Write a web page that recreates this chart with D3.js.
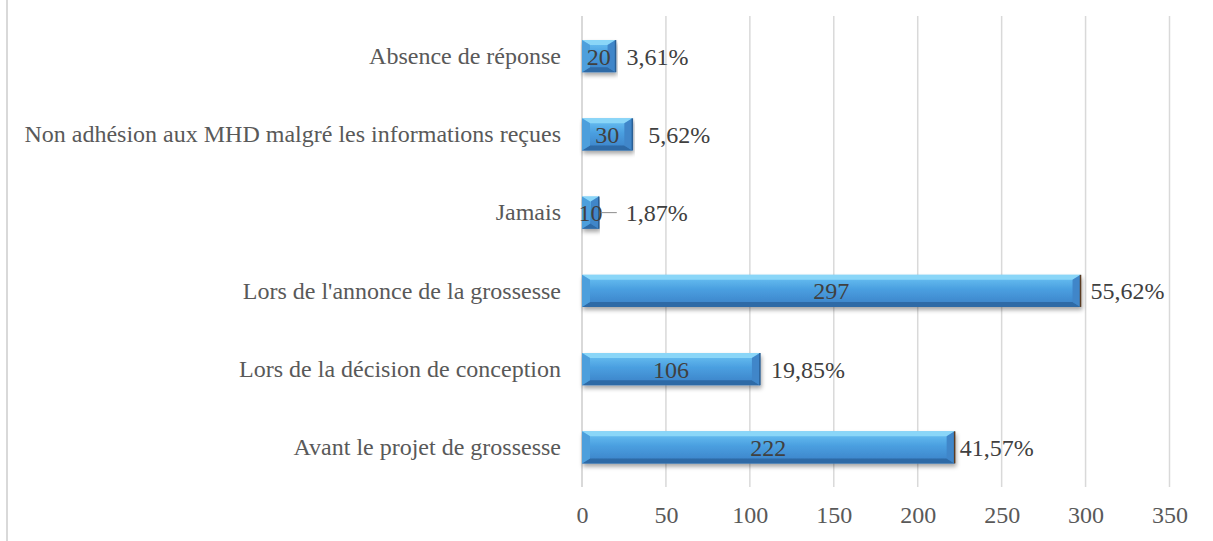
<!DOCTYPE html>
<html>
<head>
<meta charset="utf-8">
<script src="https://cdn.jsdelivr.net/npm/d3@7"></script>
<style>
  body { margin: 0; background: #fff; }
  text { font-family: "Liberation Serif", "Times New Roman", serif; }
</style>
</head>
<body>
<svg id="chart" width="1213" height="541"></svg>
<script>
// data, top to bottom
const categories = [
  "Absence de réponse",
  "Non adhésion aux MHD malgré les informations reçues",
  "Jamais",
  "Lors de l'annonce de la grossesse",
  "Lors de la décision de conception",
  "Avant le projet de grossesse",
];
const counts = [20, 30, 10, 297, 106, 222];
const percents = ["3,61%", "5,62%", "1,87%", "55,62%", "19,85%", "41,57%"];
const xTicks = [0, 50, 100, 150, 200, 250, 300, 350];

// gap between bar end and percentage label (layout only)
const pctGap = [11, 16, 27, 10, 11, 5];

const rows = categories.map((c, i) => ({ cat: c, n: counts[i], pct: percents[i], gap: pctGap[i] }));

const FONT = 24;
const svg = d3.select("#chart");
const defs = svg.append("defs");

const grad = defs.append("linearGradient").attr("id", "face").attr("x1", 0).attr("y1", 0).attr("x2", 0).attr("y2", 1);
grad.append("stop").attr("offset", "0%").attr("stop-color", "#6cc4f4");
grad.append("stop").attr("offset", "45%").attr("stop-color", "#4a9fe0");
grad.append("stop").attr("offset", "100%").attr("stop-color", "#3b80c6");

const shadow = defs.append("filter").attr("id", "shadow").attr("x", "-5%").attr("y", "-20%").attr("width", "110%").attr("height", "160%");
shadow.append("feDropShadow").attr("dx", 1).attr("dy", 3).attr("stdDeviation", 2)
  .attr("flood-color", "#000").attr("flood-opacity", 0.35);

const x = d3.scaleLinear().domain([0, 350]).range([582, 1169.5]);
const y = d3.scaleBand().domain(categories).range([17, 486.5]).paddingInner(0.59).paddingOuter(0.295);

// left border of chart area
svg.append("line").attr("x1", 7).attr("x2", 7).attr("y1", 0).attr("y2", 541)
  .attr("stroke", "#d9d9d9").attr("stroke-width", 2);

// gridlines
svg.append("g").selectAll("line").data(xTicks).join("line")
  .attr("x1", d => x(d)).attr("x2", d => x(d))
  .attr("y1", 16).attr("y2", 487)
  .attr("stroke", "#d9d9d9").attr("stroke-width", d => d === 0 ? 2 : 1.5);

// x axis labels
const xAxis = svg.append("g").attr("transform", "translate(0,487)")
  .call(d3.axisBottom(x).tickValues(xTicks).tickSize(0).tickPadding(19));
xAxis.select(".domain").remove();
xAxis.selectAll("text").attr("font-size", FONT).attr("fill", "#595959");

// category labels
const yAxis = svg.append("g").attr("transform", "translate(582,0)")
  .call(d3.axisLeft(y).tickSize(0).tickPadding(21));
yAxis.select(".domain").remove();
yAxis.selectAll("text").attr("font-size", FONT).attr("fill", "#595959");

// bevelled bars
const bars = svg.append("g").selectAll("g").data(rows).join("g")
  .attr("filter", "url(#shadow)");

bars.each(function (d) {
  const g = d3.select(this);
  const x0 = x(0), x1 = x(d.n), y0 = y(d.cat), y1 = y0 + y.bandwidth();
  const bx = Math.min(8, (x1 - x0) / 2), by = 5;
  g.append("rect").attr("x", x0).attr("y", y0).attr("width", x1 - x0).attr("height", y1 - y0)
    .attr("fill", "url(#face)");
  const facet = (pts, fill) => g.append("polygon").attr("points", pts.map(p => p.join(",")).join(" ")).attr("fill", fill);
  facet([[x0, y0], [x1, y0], [x1 - bx, y0 + by], [x0 + bx, y0 + by]], "#8ad6f8");
  facet([[x0, y1], [x1, y1], [x1 - bx, y1 - by], [x0 + bx, y1 - by]], "#2f6aa6");
  facet([[x0, y0], [x0 + bx, y0 + by], [x0 + bx, y1 - by], [x0, y1]], "#4d9fdc");
  facet([[x1, y0], [x1 - bx, y0 + by], [x1 - bx, y1 - by], [x1, y1]], "#3f86c9");
  g.append("line").attr("x1", x1).attr("x2", x1).attr("y1", y0).attr("y2", y1)
    .attr("stroke", d.n > 200 ? "#5a3a20" : "#2b5f95").attr("stroke-width", 1.5);
});

// value labels inside bars
svg.append("g").selectAll("text").data(rows).join("text")
  .attr("x", d => (x(0) + x(d.n)) / 2)
  .attr("y", d => y(d.cat) + y.bandwidth() / 2)
  .attr("dy", "0.35em")
  .attr("text-anchor", "middle")
  .attr("font-size", FONT)
  .attr("fill", "#404040")
  .text(d => d.n);

// percentage labels
svg.append("g").selectAll("text").data(rows).join("text")
  .attr("x", d => x(d.n) + d.gap)
  .attr("y", d => y(d.cat) + y.bandwidth() / 2)
  .attr("dy", "0.35em")
  .attr("font-size", FONT)
  .attr("fill", "#404040")
  .text(d => d.pct);

// leader line for the small "Jamais" label
const jam = rows.find(d => d.cat === "Jamais");
svg.append("line")
  .attr("x1", x(jam.n) + 2).attr("x2", x(jam.n) + jam.gap - 9)
  .attr("y1", y(jam.cat) + y.bandwidth() / 2).attr("y2", y(jam.cat) + y.bandwidth() / 2)
  .attr("stroke", "#8c8c8c").attr("stroke-width", 1);
</script>
</body>
</html>
